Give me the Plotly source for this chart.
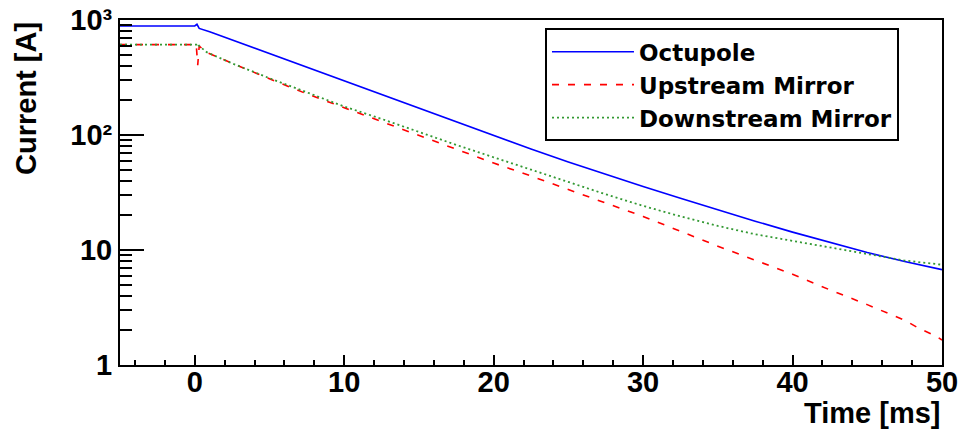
import plotly.graph_objects as go

# Magnet discharge currents (A) versus time (ms)
t_oct = [-5, 0, 0.15, 0.3, 1, 2.5, 5, 7.5, 10, 12.5, 15, 17.5, 20, 22.5, 25,
         27.5, 30, 32.5, 35, 37.5, 40, 42.5, 45, 47.5, 50]
i_oct = [887, 887, 918, 845, 790, 670, 510, 390, 296, 225, 170, 130, 99, 75.6, 58.3,
         45.4, 35.6, 28.2, 22.35, 17.8, 14.3, 11.6, 9.5, 7.95, 6.75]

t_up = [-5, 0, 0.1, 0.2, 0.3, 0.8, 2.5, 5, 7.5, 10, 12.5, 15, 17.5, 20, 22.5, 25,
        27.5, 30, 32.5, 35, 37.5, 40, 42.5, 45, 47.5, 48.5, 49.6, 50]
i_up = [611, 611, 611, 405, 594, 521, 420, 308, 228, 173, 130, 99.4, 75, 57, 44, 33.4,
        25.6, 19.6, 14.5, 10.8, 8.15, 6.15, 4.5, 3.35, 2.45, 2.07, 1.78, 1.65]

t_down = [-5, 0, 0.15, 0.2, 0.3, 0.8, 2.5, 5, 7.5, 10, 12.5, 15, 17.5, 20, 22.5, 25,
          27.5, 30, 32.5, 35, 37.5, 40, 42.5, 45, 47.5, 50]
i_down = [611, 611, 611, 625, 594, 525, 420, 312, 234, 177, 138, 106, 82, 64, 50, 39,
          30.5, 24.2, 19.6, 16.2, 13.7, 12.0, 10.5, 9.15, 8.1, 7.45]

y_tickvals = [1, 10, 100, 1000]
y_ticktext = ["1", "10", "10²", "10³"]
y_minorvals = [m * d for d in (1, 10, 100) for m in range(2, 10)]

FONT = "Liberation Sans, Arial, Helvetica, sans-serif"
LEGEND_FONT = "DejaVu Sans, Liberation Sans, sans-serif"

fig = go.Figure()
fig.add_trace(go.Scatter(x=t_oct, y=i_oct, mode="lines", name="Octupole",
                         line=dict(color="#0000ff", width=1.6)))
fig.add_trace(go.Scatter(x=t_up, y=i_up, mode="lines", name="Upstream Mirror",
                         line=dict(color="#ff0000", width=1.6, dash="7px,9px")))
fig.add_trace(go.Scatter(x=t_down, y=i_down, mode="lines", name="Downstream Mirror",
                         line=dict(color="#339933", width=1.8, dash="2px,3px")))

fig.update_layout(
    width=962, height=432,
    margin=dict(l=120, r=20, t=20, b=67),
    paper_bgcolor="white", plot_bgcolor="white",
    font=dict(family=FONT, color="black"),
    showlegend=True,
    legend=dict(
        x=0.517, y=0.976, xanchor="left", yanchor="top",
        bgcolor="white", bordercolor="black", borderwidth=2,
        font=dict(family=LEGEND_FONT, size=23, color="black", weight="bold"),
        itemwidth=82, tracegroupgap=0,
    ),
    xaxis=dict(
        range=[-5, 50], showgrid=False, zeroline=False, automargin=False,
        showline=True, linecolor="black", linewidth=2, mirror=True,
        ticks="inside", ticklen=10, tickwidth=1.5, tickcolor="black",
        tickvals=[0, 10, 20, 30, 40, 50], ticklabelstandoff=-10,
        tickfont=dict(family=FONT, size=29, color="black", weight="bold"),
        minor=dict(ticks="inside", ticklen=5, tickwidth=1.5, tickcolor="black", dtick=2, tick0=0),
    ),
    yaxis=dict(
        type="log", range=[0, 3], showgrid=False, zeroline=False, automargin=False,
        showline=True, linecolor="black", linewidth=2, mirror=True,
        ticks="inside", ticklen=24, tickwidth=1.5, tickcolor="black",
        tickmode="array", tickvals=y_tickvals, ticktext=y_ticktext,
        tickfont=dict(family=FONT, size=29, color="black", weight="bold"),
        minor=dict(ticks="inside", ticklen=12, tickwidth=1.5, tickcolor="black",
                   tickmode="array", tickvals=y_minorvals),
    ),
    annotations=[
        dict(text="Time [ms]", xref="paper", yref="paper", x=1.0, y=-0.14,
             xanchor="right", yanchor="middle", showarrow=False,
             font=dict(family=FONT, size=29, color="black", weight="bold")),
        dict(text="Current [A]", xref="paper", yref="paper", x=-0.115, y=1.0,
             xanchor="center", yanchor="top", textangle=-90, showarrow=False,
             font=dict(family=FONT, size=29, color="black", weight="bold")),
    ],
)

fig.write_html("out.html")
